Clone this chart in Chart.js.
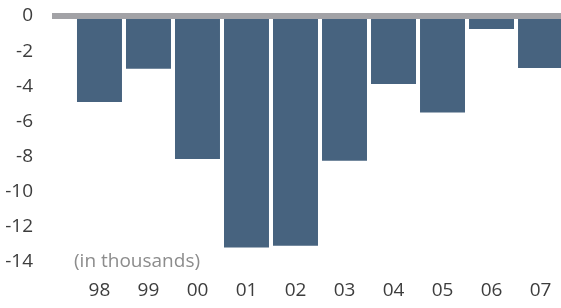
<!DOCTYPE html>
<html>
<head>
<meta charset="utf-8">
<script src="https://cdn.jsdelivr.net/npm/chart.js@4/dist/chart.umd.min.js"></script>
<style>
  html, body { margin: 0; padding: 0; background: #fff; }
  #wrap { width: 561px; height: 308px; }
</style>
</head>
<body>
<div id="wrap"><canvas id="myChart"></canvas></div>
<script>
"use strict";
// chart data
const years = ["98", "99", "00", "01", "02", "03", "04", "05", "06", "07"];
const changes = [-4.9, -3.0, -8.15, -13.2, -13.1, -8.25, -3.87, -5.5, -0.74, -2.96];
const yTicks = [0, -2, -4, -6, -8, -10, -12, -14];
const unitNote = "(in thousands)";

// note text under the bars
const notePlugin = {
  id: "note",
  afterDraw(chart) {
    const c = chart.ctx;
    const x = chart.scales.x.getPixelForValue(-0.52);
    const y = chart.scales.y.getPixelForValue(-14);
    c.save();
    c.font = "19px 'Open Sans'";
    c.fillStyle = "#8c8c8c";
    c.textAlign = "left";
    c.textBaseline = "middle";
    c.fillText(unitNote, x, y);
    c.restore();
  },
};

const ctx = document.getElementById("myChart").getContext("2d");
const myChart = new Chart(ctx, {
  type: "bar",
  data: {
    datasets: [
      {
        data: changes.map((v, i) => ({ x: i, y: v })),
        backgroundColor: "#47637f",
        borderWidth: 0,
        barPercentage: 0.918,
        categoryPercentage: 1,
      },
    ],
  },
  options: {
    responsive: true,
    maintainAspectRatio: false,
    animation: false,
    layout: { autoPadding: false, padding: { top: 16, bottom: 6.5, left: 0, right: 0 } },
    plugins: { legend: { display: false }, tooltip: { enabled: false } },
    scales: {
      x: {
        type: "linear",
        offset: false,
        min: -0.969,
        max: 9.418,
        afterBuildTicks: (s) => {
          s.ticks = years.map((_, i) => ({ value: i }));
        },
        afterFit: (s) => {
          s.height = 25.8;
          s.paddingLeft = 0;
          s.paddingRight = 0;
        },
        ticks: {
          padding: 3,
          color: "#3d3d3d",
          font: { family: "'Open Sans'", size: 19 },
          callback: (v, i) => years[i],
          maxRotation: 0,
          autoSkip: false,
        },
        grid: { display: false, drawTicks: false },
        border: { display: false },
      },
      y: {
        min: -14.8,
        max: 0,
        afterBuildTicks: (s) => {
          s.ticks = yTicks.map((v) => ({ value: v }));
        },
        afterFit: (s) => {
          s.width = 52;
          // keep the label padding from pushing the plot down
          s.paddingTop = 0;
          s.paddingBottom = 0;
        },
        ticks: {
          padding: 19,
          color: "#3d3d3d",
          font: { family: "'Open Sans'", size: 19 },
        },
        grid: {
          z: 1,
          drawTicks: false,
          color: (c) => (c.tick && c.tick.value === 0 ? "#a2a2a6" : "rgba(0,0,0,0)"),
          lineWidth: (c) => (c.tick && c.tick.value === 0 ? 6 : 0),
        },
        border: { display: false },
      },
    },
  },
  plugins: [notePlugin],
});
</script>
</body>
</html>
